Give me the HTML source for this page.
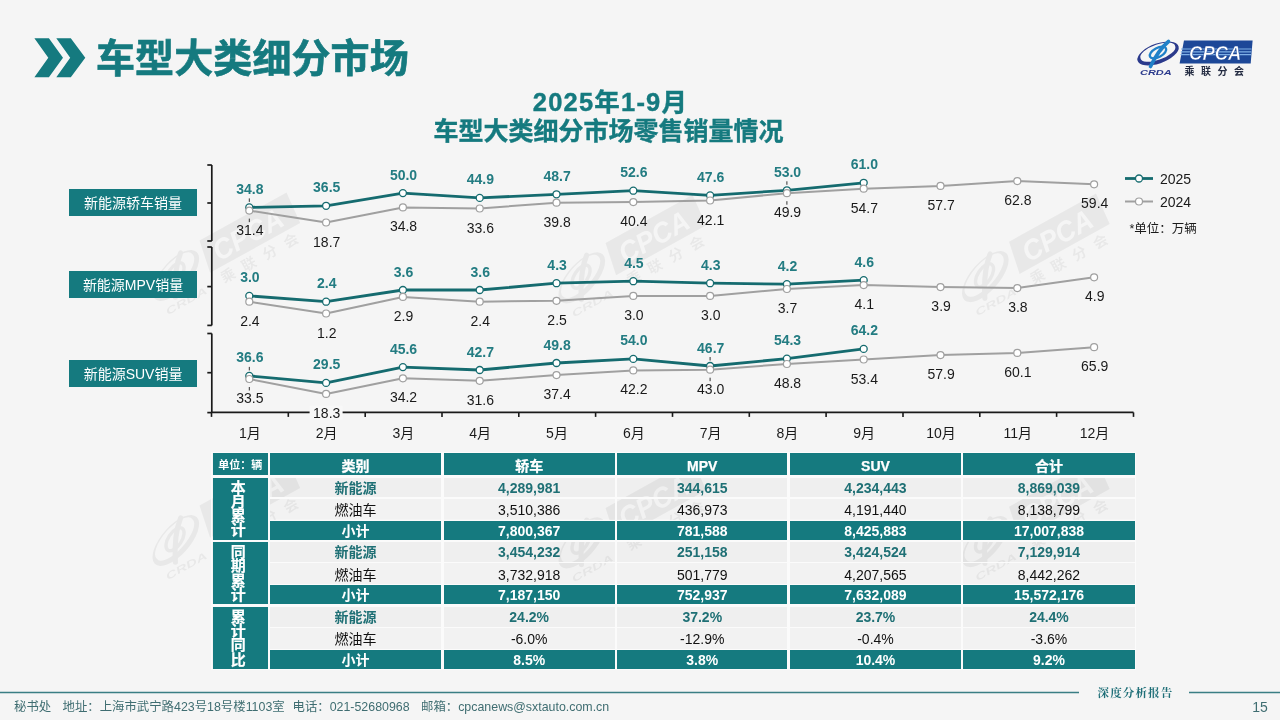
<!DOCTYPE html>
<html lang="zh-CN"><head><meta charset="utf-8"><title>车型大类细分市场</title>
<style>
*{margin:0;padding:0;box-sizing:border-box}
html,body{width:1280px;height:720px;overflow:hidden;background:#f5f5f5}
body{position:relative;font-family:"Liberation Sans", "Noto Sans CJK SC", sans-serif}
.abs{position:absolute}
#title{position:absolute;left:96px;top:34.9px;font:bold 39px/48px "Liberation Sans","Noto Sans CJK SC",sans-serif;color:#157a7f;white-space:nowrap;letter-spacing:0.1px;-webkit-text-stroke:0.7px #157a7f}
.ct{position:absolute;left:0;width:1217px;text-align:center;font-weight:bold;color:#157a7f;white-space:nowrap;font-family:"Liberation Sans","Noto Sans CJK SC",sans-serif;-webkit-text-stroke:0.4px #157a7f}
.box{position:absolute;left:69.3px;width:127.5px;height:27px;background:#157a7f;color:#fff;font:14px/26.5px "Liberation Sans","Noto Sans CJK SC",sans-serif;text-align:center;white-space:nowrap;padding-top:1px}
svg text{font-family:"Liberation Sans","Noto Sans CJK SC",sans-serif}
.la{font-size:14px;font-weight:bold;fill:#237c82;text-anchor:middle;dominant-baseline:central}
.lb{font-size:14px;fill:#1a1a1a;text-anchor:middle;dominant-baseline:central}
.mo{font-size:14px;fill:#1a1a1a;text-anchor:middle;dominant-baseline:central}
.lg{font-size:14px;fill:#1a1a1a;dominant-baseline:central}
.un{font-size:12.5px;fill:#1a1a1a;dominant-baseline:central}
.c{position:absolute;text-align:center;white-space:nowrap;font-family:"Liberation Sans","Noto Sans CJK SC",sans-serif;font-size:14px}
.h{color:#fff;font-weight:bold;-webkit-text-stroke:0.25px #fff}
.hu{font-size:11px;-webkit-text-stroke:0}
.n{color:#1f7075;font-weight:bold}
.o{color:#111}
.s{color:#fff;font-weight:bold}
.g{color:#fff;font-weight:bold;font-size:15px;display:flex;flex-direction:column;align-items:center;justify-content:center;line-height:14.3px;padding-right:4px;padding-top:1px;-webkit-text-stroke:0.2px #fff}
.ft{position:absolute;top:697.5px;font:12.4px/18px "Liberation Sans","Noto Sans CJK SC",sans-serif;color:#3f6d71;white-space:pre}
#pg{position:absolute;left:1252.2px;top:698px;font:14px/18px "Liberation Sans",sans-serif;color:#3f6d71}
#rep{position:absolute;left:1097.5px;top:685px;font:bold 11.5px/16px "Liberation Serif","Noto Serif CJK SC",serif;color:#1f6f78;letter-spacing:1.15px;white-space:nowrap}
</style></head>
<body>
<svg class="abs" style="left:0;top:0" width="120" height="100" viewBox="0 0 120 100">
<polygon points="34.4,38.3 48.9,38.3 63,57.8 48.9,77.3 34.4,77.3 48.3,57.8" fill="#157a7f"/>
<polygon points="56.3,38.3 70.8,38.3 85.3,57.8 70.8,77.3 56.3,77.3 70.2,57.8" fill="#157a7f"/>
</svg>
<svg class="abs" style="left:0;top:0" width="1280" height="720" viewBox="0 0 1280 720"><g transform="translate(199.5,240.6) rotate(-29) scale(1.45) translate(-1184,-40.4)" opacity="0.048">
<polygon points="1184,40.4 1252.6,40.4 1250.7,63.4 1179.6,63.4" fill="#000"/>
<text x="1189" y="59.6" textLength="52.5" lengthAdjust="spacingAndGlyphs" font-family="Liberation Sans, sans-serif" font-style="italic" font-weight="bold" font-size="19.5" fill="#fff">CPCA</text>
<text x="1184.5" y="74.6" textLength="59.6" lengthAdjust="spacing" font-family="Noto Sans CJK SC, sans-serif" font-weight="bold" font-size="10" fill="#000">乘联分会</text>
<path fill-rule="evenodd" fill="#000" d="M1137.5,60.5 A21.5,9.8 -20 1 1 1178.6,46.5 A21.5,9.8 -20 1 1 1137.5,60.5 Z M1140.5,58.2 A18.4,7.2 -20 1 0 1175.2,46.2 A18.4,7.2 -20 1 0 1140.5,58.2 Z"/>
<path d="M1168.5,41.5 C1163,46 1156,55 1150.5,66.5" fill="none" stroke="#000" stroke-width="3.6" stroke-linecap="round"/>
<ellipse cx="1158" cy="52.5" rx="9" ry="4.6" transform="rotate(-28 1158 52.5)" fill="none" stroke="#000" stroke-width="2.4"/>
<text x="1140" y="74.8" textLength="31.7" lengthAdjust="spacingAndGlyphs" font-family="Liberation Sans, sans-serif" font-style="italic" font-weight="bold" font-size="7" fill="#000">CRDA</text>
</g>
<g transform="translate(605.5,243) rotate(-29) scale(1.45) translate(-1184,-40.4)" opacity="0.048">
<polygon points="1184,40.4 1252.6,40.4 1250.7,63.4 1179.6,63.4" fill="#000"/>
<text x="1189" y="59.6" textLength="52.5" lengthAdjust="spacingAndGlyphs" font-family="Liberation Sans, sans-serif" font-style="italic" font-weight="bold" font-size="19.5" fill="#fff">CPCA</text>
<text x="1184.5" y="74.6" textLength="59.6" lengthAdjust="spacing" font-family="Noto Sans CJK SC, sans-serif" font-weight="bold" font-size="10" fill="#000">乘联分会</text>
<path fill-rule="evenodd" fill="#000" d="M1137.5,60.5 A21.5,9.8 -20 1 1 1178.6,46.5 A21.5,9.8 -20 1 1 1137.5,60.5 Z M1140.5,58.2 A18.4,7.2 -20 1 0 1175.2,46.2 A18.4,7.2 -20 1 0 1140.5,58.2 Z"/>
<path d="M1168.5,41.5 C1163,46 1156,55 1150.5,66.5" fill="none" stroke="#000" stroke-width="3.6" stroke-linecap="round"/>
<ellipse cx="1158" cy="52.5" rx="9" ry="4.6" transform="rotate(-28 1158 52.5)" fill="none" stroke="#000" stroke-width="2.4"/>
<text x="1140" y="74.8" textLength="31.7" lengthAdjust="spacingAndGlyphs" font-family="Liberation Sans, sans-serif" font-style="italic" font-weight="bold" font-size="7" fill="#000">CRDA</text>
</g>
<g transform="translate(1009,241.7) rotate(-29) scale(1.45) translate(-1184,-40.4)" opacity="0.048">
<polygon points="1184,40.4 1252.6,40.4 1250.7,63.4 1179.6,63.4" fill="#000"/>
<text x="1189" y="59.6" textLength="52.5" lengthAdjust="spacingAndGlyphs" font-family="Liberation Sans, sans-serif" font-style="italic" font-weight="bold" font-size="19.5" fill="#fff">CPCA</text>
<text x="1184.5" y="74.6" textLength="59.6" lengthAdjust="spacing" font-family="Noto Sans CJK SC, sans-serif" font-weight="bold" font-size="10" fill="#000">乘联分会</text>
<path fill-rule="evenodd" fill="#000" d="M1137.5,60.5 A21.5,9.8 -20 1 1 1178.6,46.5 A21.5,9.8 -20 1 1 1137.5,60.5 Z M1140.5,58.2 A18.4,7.2 -20 1 0 1175.2,46.2 A18.4,7.2 -20 1 0 1140.5,58.2 Z"/>
<path d="M1168.5,41.5 C1163,46 1156,55 1150.5,66.5" fill="none" stroke="#000" stroke-width="3.6" stroke-linecap="round"/>
<ellipse cx="1158" cy="52.5" rx="9" ry="4.6" transform="rotate(-28 1158 52.5)" fill="none" stroke="#000" stroke-width="2.4"/>
<text x="1140" y="74.8" textLength="31.7" lengthAdjust="spacingAndGlyphs" font-family="Liberation Sans, sans-serif" font-style="italic" font-weight="bold" font-size="7" fill="#000">CRDA</text>
</g><g transform="translate(199.5,505.6) rotate(-29) scale(1.45) translate(-1184,-40.4)" opacity="0.048">
<polygon points="1184,40.4 1252.6,40.4 1250.7,63.4 1179.6,63.4" fill="#000"/>
<text x="1189" y="59.6" textLength="52.5" lengthAdjust="spacingAndGlyphs" font-family="Liberation Sans, sans-serif" font-style="italic" font-weight="bold" font-size="19.5" fill="#fff">CPCA</text>
<text x="1184.5" y="74.6" textLength="59.6" lengthAdjust="spacing" font-family="Noto Sans CJK SC, sans-serif" font-weight="bold" font-size="10" fill="#000">乘联分会</text>
<path fill-rule="evenodd" fill="#000" d="M1137.5,60.5 A21.5,9.8 -20 1 1 1178.6,46.5 A21.5,9.8 -20 1 1 1137.5,60.5 Z M1140.5,58.2 A18.4,7.2 -20 1 0 1175.2,46.2 A18.4,7.2 -20 1 0 1140.5,58.2 Z"/>
<path d="M1168.5,41.5 C1163,46 1156,55 1150.5,66.5" fill="none" stroke="#000" stroke-width="3.6" stroke-linecap="round"/>
<ellipse cx="1158" cy="52.5" rx="9" ry="4.6" transform="rotate(-28 1158 52.5)" fill="none" stroke="#000" stroke-width="2.4"/>
<text x="1140" y="74.8" textLength="31.7" lengthAdjust="spacingAndGlyphs" font-family="Liberation Sans, sans-serif" font-style="italic" font-weight="bold" font-size="7" fill="#000">CRDA</text>
</g>
<g transform="translate(605.5,508) rotate(-29) scale(1.45) translate(-1184,-40.4)" opacity="0.048">
<polygon points="1184,40.4 1252.6,40.4 1250.7,63.4 1179.6,63.4" fill="#000"/>
<text x="1189" y="59.6" textLength="52.5" lengthAdjust="spacingAndGlyphs" font-family="Liberation Sans, sans-serif" font-style="italic" font-weight="bold" font-size="19.5" fill="#fff">CPCA</text>
<text x="1184.5" y="74.6" textLength="59.6" lengthAdjust="spacing" font-family="Noto Sans CJK SC, sans-serif" font-weight="bold" font-size="10" fill="#000">乘联分会</text>
<path fill-rule="evenodd" fill="#000" d="M1137.5,60.5 A21.5,9.8 -20 1 1 1178.6,46.5 A21.5,9.8 -20 1 1 1137.5,60.5 Z M1140.5,58.2 A18.4,7.2 -20 1 0 1175.2,46.2 A18.4,7.2 -20 1 0 1140.5,58.2 Z"/>
<path d="M1168.5,41.5 C1163,46 1156,55 1150.5,66.5" fill="none" stroke="#000" stroke-width="3.6" stroke-linecap="round"/>
<ellipse cx="1158" cy="52.5" rx="9" ry="4.6" transform="rotate(-28 1158 52.5)" fill="none" stroke="#000" stroke-width="2.4"/>
<text x="1140" y="74.8" textLength="31.7" lengthAdjust="spacingAndGlyphs" font-family="Liberation Sans, sans-serif" font-style="italic" font-weight="bold" font-size="7" fill="#000">CRDA</text>
</g>
<g transform="translate(1009,506.7) rotate(-29) scale(1.45) translate(-1184,-40.4)" opacity="0.048">
<polygon points="1184,40.4 1252.6,40.4 1250.7,63.4 1179.6,63.4" fill="#000"/>
<text x="1189" y="59.6" textLength="52.5" lengthAdjust="spacingAndGlyphs" font-family="Liberation Sans, sans-serif" font-style="italic" font-weight="bold" font-size="19.5" fill="#fff">CPCA</text>
<text x="1184.5" y="74.6" textLength="59.6" lengthAdjust="spacing" font-family="Noto Sans CJK SC, sans-serif" font-weight="bold" font-size="10" fill="#000">乘联分会</text>
<path fill-rule="evenodd" fill="#000" d="M1137.5,60.5 A21.5,9.8 -20 1 1 1178.6,46.5 A21.5,9.8 -20 1 1 1137.5,60.5 Z M1140.5,58.2 A18.4,7.2 -20 1 0 1175.2,46.2 A18.4,7.2 -20 1 0 1140.5,58.2 Z"/>
<path d="M1168.5,41.5 C1163,46 1156,55 1150.5,66.5" fill="none" stroke="#000" stroke-width="3.6" stroke-linecap="round"/>
<ellipse cx="1158" cy="52.5" rx="9" ry="4.6" transform="rotate(-28 1158 52.5)" fill="none" stroke="#000" stroke-width="2.4"/>
<text x="1140" y="74.8" textLength="31.7" lengthAdjust="spacingAndGlyphs" font-family="Liberation Sans, sans-serif" font-style="italic" font-weight="bold" font-size="7" fill="#000">CRDA</text>
</g></svg>
<div id="title">车型大类细分市场</div>

<svg class="abs" style="left:1130px;top:36px" width="130" height="44" viewBox="1130 36 130 44">
<polygon points="1184,40.4 1252.6,40.4 1250.7,63.4 1179.6,63.4" fill="#1d4898"/>
<g stroke="#7fb0e6" stroke-width="1.2"><line x1="1181" y1="49" x2="1251.5" y2="49"/><line x1="1180.8" y1="51.8" x2="1251.3" y2="51.8"/><line x1="1180.5" y1="54.6" x2="1251" y2="54.6"/></g>
<text x="1189" y="59.6" textLength="52.5" lengthAdjust="spacingAndGlyphs" font-family="Liberation Sans, sans-serif" font-style="italic" font-weight="bold" font-size="19.5" fill="#fff" stroke="#1d4898" stroke-width="0.5">CPCA</text>
<text x="1184.5" y="74.6" textLength="59.6" lengthAdjust="spacing" font-family="Noto Sans CJK SC, sans-serif" font-weight="bold" font-size="10" fill="#222a40">乘联分会</text>
<path fill-rule="evenodd" fill="#2b3a8c" d="M1137.5,60.5 A21.5,9.8 -20 1 1 1178.6,46.5 A21.5,9.8 -20 1 1 1137.5,60.5 Z M1140.5,58.2 A18.4,7.2 -20 1 0 1175.2,46.2 A18.4,7.2 -20 1 0 1140.5,58.2 Z"/>
<path d="M1168.5,41.5 C1163,46 1156,55 1150.5,66.5" fill="none" stroke="#1f80c8" stroke-width="3.6" stroke-linecap="round"/>
<ellipse cx="1158" cy="52.5" rx="9" ry="4.6" transform="rotate(-28 1158 52.5)" fill="none" stroke="#1f80c8" stroke-width="2.4"/>
<text x="1140" y="74.8" textLength="31.7" lengthAdjust="spacingAndGlyphs" font-family="Liberation Sans, sans-serif" font-style="italic" font-weight="bold" font-size="7" fill="#2b3a8c">CRDA</text>
</svg>

<div class="ct" style="top:86px;left:2px;font-size:25.5px;line-height:32px;letter-spacing:1.2px">2025年1-9月</div>
<div class="ct" style="top:114.5px;font-size:25px;line-height:32px">车型大类细分市场零售销量情况</div>

<div class="box" style="top:188.8px">新能源轿车销量</div>
<div class="box" style="top:271px">新能源MPV销量</div>
<div class="box" style="top:360px">新能源SUV销量</div>

<svg class="abs" style="left:0;top:0" width="1280" height="450" viewBox="0 0 1280 450">
<line x1="211.8" y1="165" x2="211.8" y2="241" stroke="#1a1a1a" stroke-width="1.7"/>
<line x1="207.3" y1="165" x2="211.8" y2="165" stroke="#1a1a1a" stroke-width="1.7"/>
<line x1="207.3" y1="203" x2="211.8" y2="203" stroke="#1a1a1a" stroke-width="1.7"/>
<line x1="207.3" y1="241" x2="211.8" y2="241" stroke="#1a1a1a" stroke-width="1.7"/>
<line x1="211.8" y1="247" x2="211.8" y2="325.4" stroke="#1a1a1a" stroke-width="1.7"/>
<line x1="207.3" y1="247" x2="211.8" y2="247" stroke="#1a1a1a" stroke-width="1.7"/>
<line x1="207.3" y1="286.6" x2="211.8" y2="286.6" stroke="#1a1a1a" stroke-width="1.7"/>
<line x1="207.3" y1="325.4" x2="211.8" y2="325.4" stroke="#1a1a1a" stroke-width="1.7"/>
<line x1="211.8" y1="333.5" x2="211.8" y2="412.6" stroke="#1a1a1a" stroke-width="1.7"/>
<line x1="207.3" y1="333.5" x2="211.8" y2="333.5" stroke="#1a1a1a" stroke-width="1.7"/>
<line x1="207.3" y1="372.7" x2="211.8" y2="372.7" stroke="#1a1a1a" stroke-width="1.7"/>
<line x1="207.3" y1="412.6" x2="211.8" y2="412.6" stroke="#1a1a1a" stroke-width="1.7"/>
<line x1="211.8" y1="412.4" x2="1133.5" y2="412.4" stroke="#1a1a1a" stroke-width="1.9"/>
<line x1="211.5" y1="412.4" x2="211.5" y2="416.9" stroke="#1a1a1a" stroke-width="1.6"/>
<line x1="288.3" y1="412.4" x2="288.3" y2="416.9" stroke="#1a1a1a" stroke-width="1.6"/>
<line x1="365.2" y1="412.4" x2="365.2" y2="416.9" stroke="#1a1a1a" stroke-width="1.6"/>
<line x1="442.0" y1="412.4" x2="442.0" y2="416.9" stroke="#1a1a1a" stroke-width="1.6"/>
<line x1="518.8" y1="412.4" x2="518.8" y2="416.9" stroke="#1a1a1a" stroke-width="1.6"/>
<line x1="595.6" y1="412.4" x2="595.6" y2="416.9" stroke="#1a1a1a" stroke-width="1.6"/>
<line x1="672.5" y1="412.4" x2="672.5" y2="416.9" stroke="#1a1a1a" stroke-width="1.6"/>
<line x1="749.3" y1="412.4" x2="749.3" y2="416.9" stroke="#1a1a1a" stroke-width="1.6"/>
<line x1="826.1" y1="412.4" x2="826.1" y2="416.9" stroke="#1a1a1a" stroke-width="1.6"/>
<line x1="903.0" y1="412.4" x2="903.0" y2="416.9" stroke="#1a1a1a" stroke-width="1.6"/>
<line x1="979.8" y1="412.4" x2="979.8" y2="416.9" stroke="#1a1a1a" stroke-width="1.6"/>
<line x1="1056.6" y1="412.4" x2="1056.6" y2="416.9" stroke="#1a1a1a" stroke-width="1.6"/>
<line x1="1133.5" y1="412.4" x2="1133.5" y2="416.9" stroke="#1a1a1a" stroke-width="1.6"/>
<polyline points="249.3,207.4 326.1,205.8 402.9,193.1 479.7,197.9 556.5,194.3 633.3,190.7 710.1,195.4 786.9,190.3 863.7,182.8" fill="none" stroke="#156b6f" stroke-width="2.8" stroke-linejoin="round"/>
<circle cx="249.3" cy="207.4" r="3.5" fill="#fff" stroke="#156b6f" stroke-width="1.3"/>
<circle cx="326.1" cy="205.8" r="3.5" fill="#fff" stroke="#156b6f" stroke-width="1.3"/>
<circle cx="402.9" cy="193.1" r="3.5" fill="#fff" stroke="#156b6f" stroke-width="1.3"/>
<circle cx="479.7" cy="197.9" r="3.5" fill="#fff" stroke="#156b6f" stroke-width="1.3"/>
<circle cx="556.5" cy="194.3" r="3.5" fill="#fff" stroke="#156b6f" stroke-width="1.3"/>
<circle cx="633.3" cy="190.7" r="3.5" fill="#fff" stroke="#156b6f" stroke-width="1.3"/>
<circle cx="710.1" cy="195.4" r="3.5" fill="#fff" stroke="#156b6f" stroke-width="1.3"/>
<circle cx="786.9" cy="190.3" r="3.5" fill="#fff" stroke="#156b6f" stroke-width="1.3"/>
<circle cx="863.7" cy="182.8" r="3.5" fill="#fff" stroke="#156b6f" stroke-width="1.3"/>
<polyline points="249.3,210.6 326.1,222.5 402.9,207.4 479.7,208.5 556.5,202.7 633.3,202.1 710.1,200.5 786.9,193.2 863.7,188.7 940.5,185.9 1017.3,181.1 1094.1,184.3" fill="none" stroke="#a0a0a0" stroke-width="2" stroke-linejoin="round"/>
<circle cx="249.3" cy="210.6" r="3.5" fill="#fff" stroke="#a0a0a0" stroke-width="1.2"/>
<circle cx="326.1" cy="222.5" r="3.5" fill="#fff" stroke="#a0a0a0" stroke-width="1.2"/>
<circle cx="402.9" cy="207.4" r="3.5" fill="#fff" stroke="#a0a0a0" stroke-width="1.2"/>
<circle cx="479.7" cy="208.5" r="3.5" fill="#fff" stroke="#a0a0a0" stroke-width="1.2"/>
<circle cx="556.5" cy="202.7" r="3.5" fill="#fff" stroke="#a0a0a0" stroke-width="1.2"/>
<circle cx="633.3" cy="202.1" r="3.5" fill="#fff" stroke="#a0a0a0" stroke-width="1.2"/>
<circle cx="710.1" cy="200.5" r="3.5" fill="#fff" stroke="#a0a0a0" stroke-width="1.2"/>
<circle cx="786.9" cy="193.2" r="3.5" fill="#fff" stroke="#a0a0a0" stroke-width="1.2"/>
<circle cx="863.7" cy="188.7" r="3.5" fill="#fff" stroke="#a0a0a0" stroke-width="1.2"/>
<circle cx="940.5" cy="185.9" r="3.5" fill="#fff" stroke="#a0a0a0" stroke-width="1.2"/>
<circle cx="1017.3" cy="181.1" r="3.5" fill="#fff" stroke="#a0a0a0" stroke-width="1.2"/>
<circle cx="1094.1" cy="184.3" r="3.5" fill="#fff" stroke="#a0a0a0" stroke-width="1.2"/>
<line x1="249.3" y1="198.4" x2="249.3" y2="201.9" stroke="#333" stroke-width="1"/>
<line x1="249.3" y1="218.6" x2="249.3" y2="222.1" stroke="#333" stroke-width="1"/>
<line x1="786.9" y1="181.3" x2="786.9" y2="184.8" stroke="#333" stroke-width="1"/>
<line x1="786.9" y1="201.2" x2="786.9" y2="204.7" stroke="#333" stroke-width="1"/>
<polyline points="249.3,295.9 326.1,301.7 402.9,290.0 479.7,290.0 556.5,283.2 633.3,281.2 710.1,283.2 786.9,284.1 863.7,280.2" fill="none" stroke="#156b6f" stroke-width="2.8" stroke-linejoin="round"/>
<circle cx="249.3" cy="295.9" r="3.5" fill="#fff" stroke="#156b6f" stroke-width="1.3"/>
<circle cx="326.1" cy="301.7" r="3.5" fill="#fff" stroke="#156b6f" stroke-width="1.3"/>
<circle cx="402.9" cy="290.0" r="3.5" fill="#fff" stroke="#156b6f" stroke-width="1.3"/>
<circle cx="479.7" cy="290.0" r="3.5" fill="#fff" stroke="#156b6f" stroke-width="1.3"/>
<circle cx="556.5" cy="283.2" r="3.5" fill="#fff" stroke="#156b6f" stroke-width="1.3"/>
<circle cx="633.3" cy="281.2" r="3.5" fill="#fff" stroke="#156b6f" stroke-width="1.3"/>
<circle cx="710.1" cy="283.2" r="3.5" fill="#fff" stroke="#156b6f" stroke-width="1.3"/>
<circle cx="786.9" cy="284.1" r="3.5" fill="#fff" stroke="#156b6f" stroke-width="1.3"/>
<circle cx="863.7" cy="280.2" r="3.5" fill="#fff" stroke="#156b6f" stroke-width="1.3"/>
<polyline points="249.3,301.7 326.1,313.5 402.9,296.9 479.7,301.7 556.5,300.8 633.3,295.9 710.1,295.9 786.9,289.0 863.7,285.1 940.5,287.1 1017.3,288.1 1094.1,277.3" fill="none" stroke="#a0a0a0" stroke-width="2" stroke-linejoin="round"/>
<circle cx="249.3" cy="301.7" r="3.5" fill="#fff" stroke="#a0a0a0" stroke-width="1.2"/>
<circle cx="326.1" cy="313.5" r="3.5" fill="#fff" stroke="#a0a0a0" stroke-width="1.2"/>
<circle cx="402.9" cy="296.9" r="3.5" fill="#fff" stroke="#a0a0a0" stroke-width="1.2"/>
<circle cx="479.7" cy="301.7" r="3.5" fill="#fff" stroke="#a0a0a0" stroke-width="1.2"/>
<circle cx="556.5" cy="300.8" r="3.5" fill="#fff" stroke="#a0a0a0" stroke-width="1.2"/>
<circle cx="633.3" cy="295.9" r="3.5" fill="#fff" stroke="#a0a0a0" stroke-width="1.2"/>
<circle cx="710.1" cy="295.9" r="3.5" fill="#fff" stroke="#a0a0a0" stroke-width="1.2"/>
<circle cx="786.9" cy="289.0" r="3.5" fill="#fff" stroke="#a0a0a0" stroke-width="1.2"/>
<circle cx="863.7" cy="285.1" r="3.5" fill="#fff" stroke="#a0a0a0" stroke-width="1.2"/>
<circle cx="940.5" cy="287.1" r="3.5" fill="#fff" stroke="#a0a0a0" stroke-width="1.2"/>
<circle cx="1017.3" cy="288.1" r="3.5" fill="#fff" stroke="#a0a0a0" stroke-width="1.2"/>
<circle cx="1094.1" cy="277.3" r="3.5" fill="#fff" stroke="#a0a0a0" stroke-width="1.2"/>
<polyline points="249.3,375.9 326.1,382.9 402.9,367.1 479.7,370.0 556.5,363.0 633.3,358.9 710.1,366.0 786.9,358.6 863.7,348.9" fill="none" stroke="#156b6f" stroke-width="2.8" stroke-linejoin="round"/>
<circle cx="249.3" cy="375.9" r="3.5" fill="#fff" stroke="#156b6f" stroke-width="1.3"/>
<circle cx="326.1" cy="382.9" r="3.5" fill="#fff" stroke="#156b6f" stroke-width="1.3"/>
<circle cx="402.9" cy="367.1" r="3.5" fill="#fff" stroke="#156b6f" stroke-width="1.3"/>
<circle cx="479.7" cy="370.0" r="3.5" fill="#fff" stroke="#156b6f" stroke-width="1.3"/>
<circle cx="556.5" cy="363.0" r="3.5" fill="#fff" stroke="#156b6f" stroke-width="1.3"/>
<circle cx="633.3" cy="358.9" r="3.5" fill="#fff" stroke="#156b6f" stroke-width="1.3"/>
<circle cx="710.1" cy="366.0" r="3.5" fill="#fff" stroke="#156b6f" stroke-width="1.3"/>
<circle cx="786.9" cy="358.6" r="3.5" fill="#fff" stroke="#156b6f" stroke-width="1.3"/>
<circle cx="863.7" cy="348.9" r="3.5" fill="#fff" stroke="#156b6f" stroke-width="1.3"/>
<polyline points="249.3,379.0 326.1,393.9 402.9,378.3 479.7,380.8 556.5,375.1 633.3,370.4 710.1,369.7 786.9,364.0 863.7,359.5 940.5,355.1 1017.3,352.9 1094.1,347.2" fill="none" stroke="#a0a0a0" stroke-width="2" stroke-linejoin="round"/>
<circle cx="249.3" cy="379.0" r="3.5" fill="#fff" stroke="#a0a0a0" stroke-width="1.2"/>
<circle cx="326.1" cy="393.9" r="3.5" fill="#fff" stroke="#a0a0a0" stroke-width="1.2"/>
<circle cx="402.9" cy="378.3" r="3.5" fill="#fff" stroke="#a0a0a0" stroke-width="1.2"/>
<circle cx="479.7" cy="380.8" r="3.5" fill="#fff" stroke="#a0a0a0" stroke-width="1.2"/>
<circle cx="556.5" cy="375.1" r="3.5" fill="#fff" stroke="#a0a0a0" stroke-width="1.2"/>
<circle cx="633.3" cy="370.4" r="3.5" fill="#fff" stroke="#a0a0a0" stroke-width="1.2"/>
<circle cx="710.1" cy="369.7" r="3.5" fill="#fff" stroke="#a0a0a0" stroke-width="1.2"/>
<circle cx="786.9" cy="364.0" r="3.5" fill="#fff" stroke="#a0a0a0" stroke-width="1.2"/>
<circle cx="863.7" cy="359.5" r="3.5" fill="#fff" stroke="#a0a0a0" stroke-width="1.2"/>
<circle cx="940.5" cy="355.1" r="3.5" fill="#fff" stroke="#a0a0a0" stroke-width="1.2"/>
<circle cx="1017.3" cy="352.9" r="3.5" fill="#fff" stroke="#a0a0a0" stroke-width="1.2"/>
<circle cx="1094.1" cy="347.2" r="3.5" fill="#fff" stroke="#a0a0a0" stroke-width="1.2"/>
<line x1="249.3" y1="366.9" x2="249.3" y2="370.4" stroke="#333" stroke-width="1"/>
<line x1="249.3" y1="387.0" x2="249.3" y2="390.5" stroke="#333" stroke-width="1"/>
<line x1="710.1" y1="357.0" x2="710.1" y2="360.5" stroke="#333" stroke-width="1"/>
<line x1="710.1" y1="377.7" x2="710.1" y2="381.2" stroke="#333" stroke-width="1"/>
<text x="249.9" y="229.6" class="lb">31.4</text>
<text x="326.7" y="241.5" class="lb">18.7</text>
<text x="403.5" y="226.4" class="lb">34.8</text>
<text x="480.3" y="227.5" class="lb">33.6</text>
<text x="557.1" y="221.7" class="lb">39.8</text>
<text x="633.9" y="221.1" class="lb">40.4</text>
<text x="710.7" y="219.5" class="lb">42.1</text>
<text x="787.5" y="212.2" class="lb">49.9</text>
<text x="864.3" y="207.7" class="lb">54.7</text>
<text x="941.1" y="204.9" class="lb">57.7</text>
<text x="1017.9" y="200.1" class="lb">62.8</text>
<text x="1094.7" y="203.3" class="lb">59.4</text>
<text x="249.9" y="188.9" class="la">34.8</text>
<text x="326.7" y="187.3" class="la">36.5</text>
<text x="403.5" y="174.6" class="la">50.0</text>
<text x="480.3" y="179.4" class="la">44.9</text>
<text x="557.1" y="175.8" class="la">48.7</text>
<text x="633.9" y="172.2" class="la">52.6</text>
<text x="710.7" y="176.9" class="la">47.6</text>
<text x="787.5" y="171.8" class="la">53.0</text>
<text x="864.3" y="164.3" class="la">61.0</text>
<text x="249.9" y="320.7" class="lb">2.4</text>
<text x="326.7" y="332.5" class="lb">1.2</text>
<text x="403.5" y="315.9" class="lb">2.9</text>
<text x="480.3" y="320.7" class="lb">2.4</text>
<text x="557.1" y="319.8" class="lb">2.5</text>
<text x="633.9" y="314.9" class="lb">3.0</text>
<text x="710.7" y="314.9" class="lb">3.0</text>
<text x="787.5" y="308.0" class="lb">3.7</text>
<text x="864.3" y="304.1" class="lb">4.1</text>
<text x="941.1" y="306.1" class="lb">3.9</text>
<text x="1017.9" y="307.1" class="lb">3.8</text>
<text x="1094.7" y="296.3" class="lb">4.9</text>
<text x="249.9" y="277.4" class="la">3.0</text>
<text x="326.7" y="283.2" class="la">2.4</text>
<text x="403.5" y="271.5" class="la">3.6</text>
<text x="480.3" y="271.5" class="la">3.6</text>
<text x="557.1" y="264.7" class="la">4.3</text>
<text x="633.9" y="262.7" class="la">4.5</text>
<text x="710.7" y="264.7" class="la">4.3</text>
<text x="787.5" y="265.6" class="la">4.2</text>
<text x="864.3" y="261.7" class="la">4.6</text>
<text x="249.9" y="398.0" class="lb">33.5</text>
<rect x="309.6" y="405.9" width="33" height="14" fill="#f8f8f8"/>
<text x="326.7" y="412.9" class="lb">18.3</text>
<text x="403.5" y="397.3" class="lb">34.2</text>
<text x="480.3" y="399.8" class="lb">31.6</text>
<text x="557.1" y="394.1" class="lb">37.4</text>
<text x="633.9" y="389.4" class="lb">42.2</text>
<text x="710.7" y="388.7" class="lb">43.0</text>
<text x="787.5" y="383.0" class="lb">48.8</text>
<text x="864.3" y="378.5" class="lb">53.4</text>
<text x="941.1" y="374.1" class="lb">57.9</text>
<text x="1017.9" y="371.9" class="lb">60.1</text>
<text x="1094.7" y="366.2" class="lb">65.9</text>
<text x="249.9" y="357.4" class="la">36.6</text>
<text x="326.7" y="364.4" class="la">29.5</text>
<text x="403.5" y="348.6" class="la">45.6</text>
<text x="480.3" y="351.5" class="la">42.7</text>
<text x="557.1" y="344.5" class="la">49.8</text>
<text x="633.9" y="340.4" class="la">54.0</text>
<text x="710.7" y="347.5" class="la">46.7</text>
<text x="787.5" y="340.1" class="la">54.3</text>
<text x="864.3" y="330.4" class="la">64.2</text>
<text x="249.8" y="433.3" class="mo">1月</text>
<text x="326.6" y="433.3" class="mo">2月</text>
<text x="403.4" y="433.3" class="mo">3月</text>
<text x="480.2" y="433.3" class="mo">4月</text>
<text x="557.0" y="433.3" class="mo">5月</text>
<text x="633.8" y="433.3" class="mo">6月</text>
<text x="710.6" y="433.3" class="mo">7月</text>
<text x="787.4" y="433.3" class="mo">8月</text>
<text x="864.2" y="433.3" class="mo">9月</text>
<text x="941.0" y="433.3" class="mo">10月</text>
<text x="1017.8" y="433.3" class="mo">11月</text>
<text x="1094.6" y="433.3" class="mo">12月</text>
<line x1="1125" y1="178.5" x2="1153" y2="178.5" stroke="#156b6f" stroke-width="2.8"/>
<circle cx="1139" cy="178.5" r="3.5" fill="#fff" stroke="#156b6f" stroke-width="1.3"/>
<text x="1160" y="178.8" class="lg">2025</text>
<line x1="1125" y1="201.5" x2="1153" y2="201.5" stroke="#a0a0a0" stroke-width="2"/>
<circle cx="1139" cy="201.5" r="3.5" fill="#fff" stroke="#a0a0a0" stroke-width="1.2"/>
<text x="1160" y="201.8" class="lg">2024</text>
<text x="1129.5" y="228.9" class="un">*单位：万辆</text>
</svg>

<div class="c h hu" style="left:212.5px;top:453px;width:55.60px;height:22.25px;line-height:22.25px;padding-top:1.2px;background:#157a7f;">单位：辆</div>
<div class="c h" style="left:270px;top:453px;width:171.10px;height:22.25px;line-height:22.25px;padding-top:2px;background:#157a7f;">类别</div>
<div class="c h" style="left:443.7px;top:453px;width:171.00px;height:22.25px;line-height:22.25px;padding-top:2px;background:#157a7f;">轿车</div>
<div class="c h" style="left:617.1px;top:453px;width:170.30px;height:22.25px;line-height:22.25px;padding-top:2px;background:#157a7f;">MPV</div>
<div class="c h" style="left:789.9px;top:453px;width:171.20px;height:22.25px;line-height:22.25px;padding-top:2px;background:#157a7f;">SUV</div>
<div class="c h" style="left:963.2px;top:453px;width:171.60px;height:22.25px;line-height:22.25px;padding-top:2px;background:#157a7f;">合计</div>
<div class="c g" style="left:212.5px;top:477.75px;width:55.60px;height:61.85px;background:#157a7f"><span>本</span><span>月</span><span>累</span><span>计</span></div>
<div class="c g" style="left:212.5px;top:542.3px;width:55.60px;height:61.85px;background:#157a7f"><span>同</span><span>期</span><span>累</span><span>计</span></div>
<div class="c g" style="left:212.5px;top:607.0px;width:55.60px;height:61.85px;background:#157a7f"><span>累</span><span>计</span><span>同</span><span>比</span></div>
<div class="c n" style="left:270px;top:477.75px;width:171.10px;height:19.50px;line-height:19.50px;padding-top:1.2px;background:rgba(0,0,0,0.022);">新能源</div>
<div class="c n" style="left:443.7px;top:477.75px;width:171.00px;height:19.50px;line-height:19.50px;padding-top:1.2px;background:rgba(0,0,0,0.022);">4,289,981</div>
<div class="c n" style="left:617.1px;top:477.75px;width:170.30px;height:19.50px;line-height:19.50px;padding-top:1.2px;background:rgba(0,0,0,0.022);">344,615</div>
<div class="c n" style="left:789.9px;top:477.75px;width:171.20px;height:19.50px;line-height:19.50px;padding-top:1.2px;background:rgba(0,0,0,0.022);">4,234,443</div>
<div class="c n" style="left:963.2px;top:477.75px;width:171.60px;height:19.50px;line-height:19.50px;padding-top:1.2px;background:rgba(0,0,0,0.022);">8,869,039</div>
<div class="c o" style="left:270px;top:498.85px;width:171.10px;height:20.65px;line-height:20.65px;padding-top:1.2px;background:rgba(0,0,0,0.012);">燃油车</div>
<div class="c o" style="left:443.7px;top:498.85px;width:171.00px;height:20.65px;line-height:20.65px;padding-top:1.2px;background:rgba(0,0,0,0.012);">3,510,386</div>
<div class="c o" style="left:617.1px;top:498.85px;width:170.30px;height:20.65px;line-height:20.65px;padding-top:1.2px;background:rgba(0,0,0,0.012);">436,973</div>
<div class="c o" style="left:789.9px;top:498.85px;width:171.20px;height:20.65px;line-height:20.65px;padding-top:1.2px;background:rgba(0,0,0,0.012);">4,191,440</div>
<div class="c o" style="left:963.2px;top:498.85px;width:171.60px;height:20.65px;line-height:20.65px;padding-top:1.2px;background:rgba(0,0,0,0.012);">8,138,799</div>
<div class="c s" style="left:270px;top:520.65px;width:171.10px;height:18.95px;line-height:18.95px;padding-top:1.2px;background:#157a7f;">小计</div>
<div class="c s" style="left:443.7px;top:520.65px;width:171.00px;height:18.95px;line-height:18.95px;padding-top:1.2px;background:#157a7f;">7,800,367</div>
<div class="c s" style="left:617.1px;top:520.65px;width:170.30px;height:18.95px;line-height:18.95px;padding-top:1.2px;background:#157a7f;">781,588</div>
<div class="c s" style="left:789.9px;top:520.65px;width:171.20px;height:18.95px;line-height:18.95px;padding-top:1.2px;background:#157a7f;">8,425,883</div>
<div class="c s" style="left:963.2px;top:520.65px;width:171.60px;height:18.95px;line-height:18.95px;padding-top:1.2px;background:#157a7f;">17,007,838</div>
<div class="c n" style="left:270px;top:542.3px;width:171.10px;height:19.50px;line-height:19.50px;padding-top:1.2px;background:rgba(0,0,0,0.022);">新能源</div>
<div class="c n" style="left:443.7px;top:542.3px;width:171.00px;height:19.50px;line-height:19.50px;padding-top:1.2px;background:rgba(0,0,0,0.022);">3,454,232</div>
<div class="c n" style="left:617.1px;top:542.3px;width:170.30px;height:19.50px;line-height:19.50px;padding-top:1.2px;background:rgba(0,0,0,0.022);">251,158</div>
<div class="c n" style="left:789.9px;top:542.3px;width:171.20px;height:19.50px;line-height:19.50px;padding-top:1.2px;background:rgba(0,0,0,0.022);">3,424,524</div>
<div class="c n" style="left:963.2px;top:542.3px;width:171.60px;height:19.50px;line-height:19.50px;padding-top:1.2px;background:rgba(0,0,0,0.022);">7,129,914</div>
<div class="c o" style="left:270px;top:563.4px;width:171.10px;height:20.65px;line-height:20.65px;padding-top:1.2px;background:rgba(0,0,0,0.012);">燃油车</div>
<div class="c o" style="left:443.7px;top:563.4px;width:171.00px;height:20.65px;line-height:20.65px;padding-top:1.2px;background:rgba(0,0,0,0.012);">3,732,918</div>
<div class="c o" style="left:617.1px;top:563.4px;width:170.30px;height:20.65px;line-height:20.65px;padding-top:1.2px;background:rgba(0,0,0,0.012);">501,779</div>
<div class="c o" style="left:789.9px;top:563.4px;width:171.20px;height:20.65px;line-height:20.65px;padding-top:1.2px;background:rgba(0,0,0,0.012);">4,207,565</div>
<div class="c o" style="left:963.2px;top:563.4px;width:171.60px;height:20.65px;line-height:20.65px;padding-top:1.2px;background:rgba(0,0,0,0.012);">8,442,262</div>
<div class="c s" style="left:270px;top:585.1999999999999px;width:171.10px;height:18.95px;line-height:18.95px;padding-top:1.2px;background:#157a7f;">小计</div>
<div class="c s" style="left:443.7px;top:585.1999999999999px;width:171.00px;height:18.95px;line-height:18.95px;padding-top:1.2px;background:#157a7f;">7,187,150</div>
<div class="c s" style="left:617.1px;top:585.1999999999999px;width:170.30px;height:18.95px;line-height:18.95px;padding-top:1.2px;background:#157a7f;">752,937</div>
<div class="c s" style="left:789.9px;top:585.1999999999999px;width:171.20px;height:18.95px;line-height:18.95px;padding-top:1.2px;background:#157a7f;">7,632,089</div>
<div class="c s" style="left:963.2px;top:585.1999999999999px;width:171.60px;height:18.95px;line-height:18.95px;padding-top:1.2px;background:#157a7f;">15,572,176</div>
<div class="c n" style="left:270px;top:607.0px;width:171.10px;height:19.50px;line-height:19.50px;padding-top:1.2px;background:rgba(0,0,0,0.022);">新能源</div>
<div class="c n" style="left:443.7px;top:607.0px;width:171.00px;height:19.50px;line-height:19.50px;padding-top:1.2px;background:rgba(0,0,0,0.022);">24.2%</div>
<div class="c n" style="left:617.1px;top:607.0px;width:170.30px;height:19.50px;line-height:19.50px;padding-top:1.2px;background:rgba(0,0,0,0.022);">37.2%</div>
<div class="c n" style="left:789.9px;top:607.0px;width:171.20px;height:19.50px;line-height:19.50px;padding-top:1.2px;background:rgba(0,0,0,0.022);">23.7%</div>
<div class="c n" style="left:963.2px;top:607.0px;width:171.60px;height:19.50px;line-height:19.50px;padding-top:1.2px;background:rgba(0,0,0,0.022);">24.4%</div>
<div class="c o" style="left:270px;top:628.1px;width:171.10px;height:20.65px;line-height:20.65px;padding-top:1.2px;background:rgba(0,0,0,0.012);">燃油车</div>
<div class="c o" style="left:443.7px;top:628.1px;width:171.00px;height:20.65px;line-height:20.65px;padding-top:1.2px;background:rgba(0,0,0,0.012);">-6.0%</div>
<div class="c o" style="left:617.1px;top:628.1px;width:170.30px;height:20.65px;line-height:20.65px;padding-top:1.2px;background:rgba(0,0,0,0.012);">-12.9%</div>
<div class="c o" style="left:789.9px;top:628.1px;width:171.20px;height:20.65px;line-height:20.65px;padding-top:1.2px;background:rgba(0,0,0,0.012);">-0.4%</div>
<div class="c o" style="left:963.2px;top:628.1px;width:171.60px;height:20.65px;line-height:20.65px;padding-top:1.2px;background:rgba(0,0,0,0.012);">-3.6%</div>
<div class="c s" style="left:270px;top:649.9px;width:171.10px;height:18.95px;line-height:18.95px;padding-top:1.2px;background:#157a7f;">小计</div>
<div class="c s" style="left:443.7px;top:649.9px;width:171.00px;height:18.95px;line-height:18.95px;padding-top:1.2px;background:#157a7f;">8.5%</div>
<div class="c s" style="left:617.1px;top:649.9px;width:170.30px;height:18.95px;line-height:18.95px;padding-top:1.2px;background:#157a7f;">3.8%</div>
<div class="c s" style="left:789.9px;top:649.9px;width:171.20px;height:18.95px;line-height:18.95px;padding-top:1.2px;background:#157a7f;">10.4%</div>
<div class="c s" style="left:963.2px;top:649.9px;width:171.60px;height:18.95px;line-height:18.95px;padding-top:1.2px;background:#157a7f;">9.2%</div>
<div class="abs" style="left:211.30px;top:475.25px;width:924.70px;height:2.50px;background:#fbfbfb"></div>
<div class="abs" style="left:267.50px;top:497.25px;width:868.50px;height:1.60px;background:#fbfbfb"></div>
<div class="abs" style="left:267.50px;top:519.50px;width:868.50px;height:1.15px;background:#fbfbfb"></div>
<div class="abs" style="left:211.30px;top:539.60px;width:924.70px;height:2.70px;background:#fbfbfb"></div>
<div class="abs" style="left:267.50px;top:561.80px;width:868.50px;height:1.60px;background:#fbfbfb"></div>
<div class="abs" style="left:267.50px;top:584.05px;width:868.50px;height:1.15px;background:#fbfbfb"></div>
<div class="abs" style="left:211.30px;top:604.15px;width:924.70px;height:2.85px;background:#fbfbfb"></div>
<div class="abs" style="left:267.50px;top:626.50px;width:868.50px;height:1.60px;background:#fbfbfb"></div>
<div class="abs" style="left:267.50px;top:648.75px;width:868.50px;height:1.15px;background:#fbfbfb"></div>
<div class="abs" style="left:268.10px;top:451.80px;width:1.90px;height:218.20px;background:#fbfbfb"></div>
<div class="abs" style="left:441.10px;top:451.80px;width:2.60px;height:218.20px;background:#fbfbfb"></div>
<div class="abs" style="left:614.70px;top:451.80px;width:2.40px;height:218.20px;background:#fbfbfb"></div>
<div class="abs" style="left:787.40px;top:451.80px;width:2.50px;height:218.20px;background:#fbfbfb"></div>
<div class="abs" style="left:961.10px;top:451.80px;width:2.10px;height:218.20px;background:#fbfbfb"></div>
<div class="abs" style="left:211.30px;top:451.80px;width:924.70px;height:1.20px;background:#fbfbfb"></div>
<div class="abs" style="left:211.30px;top:668.85px;width:924.70px;height:1.15px;background:#fbfbfb"></div>
<div class="abs" style="left:211.30px;top:451.80px;width:1.20px;height:218.20px;background:#fbfbfb"></div>
<div class="abs" style="left:1134.80px;top:451.80px;width:1.20px;height:218.20px;background:#fbfbfb"></div>

<svg class="abs" style="left:0;top:685px" width="1280" height="16" viewBox="0 685 1280 16">
<line x1="0" y1="692.5" x2="1079" y2="692.5" stroke="#3a7e84" stroke-width="1.6"/>
<line x1="1189" y1="692.5" x2="1280" y2="692.5" stroke="#3a7e84" stroke-width="1.6"/>
</svg>
<div id="rep">深度分析报告</div>
<div class="ft" style="left:14px">秘书处</div><div class="ft" style="left:62.5px">地址：上海市武宁路423号18号楼1103室</div><div class="ft" style="left:292.5px">电话：021-52680968</div><div class="ft" style="left:421px">邮箱：cpcanews@sxtauto.com.cn</div>
<div id="pg">15</div>
</body></html>
